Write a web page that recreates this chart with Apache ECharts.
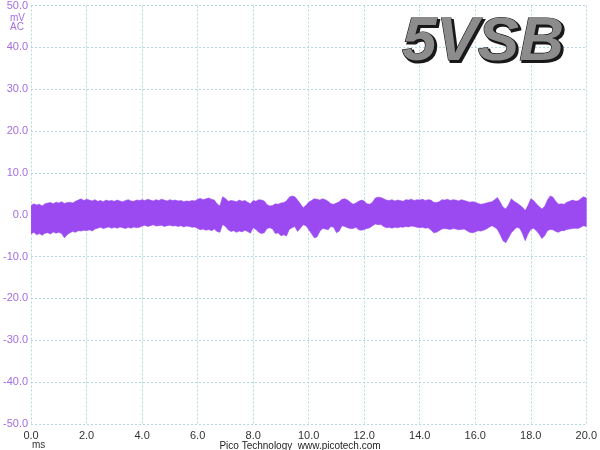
<!DOCTYPE html>
<html><head><meta charset="utf-8">
<script src="https://cdn.jsdelivr.net/npm/echarts@6/dist/echarts.min.js"></script>
<style>html,body{margin:0;padding:0;background:#fff}#c{width:600px;height:450px}</style>
</head><body><div id="c"></div>
<script>
// time axis in ms (step 0.1 ms), envelope of trace in mV
var timeStart = 0, timeStep = 0.1;
var upper = [
 2.2,2.6,2.3,2.5,2.1,2.6,2.8,2.9,2.6,3.0,
 2.8,3.1,2.7,2.9,3.0,2.8,3.2,3.5,3.8,3.4,
 3.7,3.5,3.3,3.6,3.2,3.4,3.1,3.5,3.3,3.4,
 3.2,3.5,3.3,3.1,3.4,3.6,3.3,3.2,3.5,3.4,
 3.6,3.4,3.7,3.5,3.3,3.6,3.4,3.7,3.5,3.3,
 3.6,3.4,3.5,3.3,3.4,3.1,3.3,3.2,3.4,3.3,
 3.7,3.9,3.6,3.8,4.0,3.7,3.5,2.6,2.1,4.3,
 3.9,3.2,3.4,3.3,3.1,3.5,3.2,3.4,3.0,2.6,
 3.4,3.2,3.6,3.5,3.3,2.4,2.1,2.2,2.6,2.5,
 2.8,2.9,3.3,4.2,4.5,4.3,3.5,2.6,1.7,2.2,
 3.0,3.4,3.8,3.7,3.5,3.8,3.6,3.2,2.6,2.5,
 2.8,3.1,3.7,3.8,3.5,3.0,2.5,2.8,3.2,3.5,
 3.3,2.6,2.5,3.0,4.0,4.2,4.1,3.8,3.5,3.4,
 3.6,3.3,3.5,3.4,3.2,3.6,3.5,3.7,3.4,3.6,
 3.5,3.7,3.4,3.6,3.5,3.0,2.9,3.1,3.6,3.5,
 3.7,3.4,3.6,3.5,3.3,3.6,3.4,3.2,3.0,3.1,
 3.0,2.7,2.5,2.6,2.8,3.0,3.1,3.6,4.1,3.0,
 1.8,1.4,2.4,3.8,3.2,2.8,2.3,1.8,1.0,2.2,
 3.8,3.4,2.6,2.0,1.4,2.0,3.5,4.5,4.2,3.2,
 2.5,2.6,2.5,3.0,3.2,3.5,3.3,3.3,3.8,4.3,
 4.0
];
var lower = [
 -4.6,-4.2,-4.8,-4.5,-4.9,-4.4,-4.3,-4.6,-4.1,-4.4,
 -4.2,-4.5,-5.5,-4.8,-4.3,-4.0,-4.2,-3.8,-3.9,-3.7,
 -3.8,-3.6,-3.9,-3.4,-3.2,-3.0,-3.3,-3.1,-2.9,-3.2,
 -3.0,-3.2,-2.9,-3.1,-3.3,-3.0,-3.2,-2.9,-3.1,-3.0,
 -2.7,-2.5,-2.8,-2.6,-2.4,-2.7,-2.6,-2.5,-2.8,-2.6,
 -2.5,-2.7,-2.6,-2.8,-2.6,-2.9,-2.7,-2.8,-3.0,-2.9,
 -3.3,-3.6,-3.4,-3.7,-3.5,-3.8,-3.4,-4.0,-4.2,-2.3,
 -2.8,-3.6,-4.0,-3.8,-4.2,-3.9,-4.1,-3.7,-4.0,-4.4,
 -3.1,-3.5,-4.2,-4.5,-4.3,-3.3,-3.1,-3.4,-4.5,-4.3,
 -5.0,-4.8,-5.1,-3.5,-3.1,-2.8,-4.0,-3.2,-2.4,-2.6,
 -3.5,-4.5,-5.5,-5.3,-4.0,-3.3,-3.4,-3.6,-2.8,-3.0,
 -4.3,-3.9,-2.6,-2.8,-3.1,-3.3,-3.3,-3.0,-3.6,-3.7,
 -3.5,-3.3,-3.1,-2.6,-2.2,-2.4,-2.3,-2.8,-3.1,-3.0,
 -3.2,-3.0,-3.1,-2.9,-3.0,-2.8,-2.9,-2.7,-2.8,-3.0,
 -3.1,-3.0,-3.2,-3.1,-3.6,-4.3,-4.2,-3.8,-3.4,-3.3,
 -3.4,-3.5,-3.3,-3.4,-3.6,-3.5,-3.4,-3.8,-4.2,-4.3,
 -4.1,-3.8,-3.9,-3.7,-3.4,-3.0,-2.6,-3.0,-3.5,-4.8,
 -6.2,-6.7,-5.5,-4.3,-3.6,-3.0,-3.2,-4.5,-6.2,-4.6,
 -3.5,-3.2,-3.8,-4.6,-5.7,-5.0,-3.8,-3.5,-3.6,-4.0,
 -4.2,-3.8,-3.8,-3.5,-3.4,-3.3,-3.2,-3.3,-3.0,-2.6,
 -2.8
];
var yTicks = [-50, -40, -30, -20, -10, 0, 10, 20, 30, 40, 50];
var xTicks = [0, 2, 4, 6, 8, 10, 12, 14, 16, 18, 20];
var titleText = '5VSB';
var traceColor = '#9b4af1';

var data = upper.map(function (u, i) {
  return [+(timeStart + i * timeStep).toFixed(2), lower[i], u];
});

var chart = echarts.init(document.getElementById('c'));
var gridColor = '#b3d8df';
var titleStyle = function (fill, stroke, lw) {
  return { text: titleText, font: 'italic bold 62px "Liberation Sans"', fill: fill, stroke: stroke, lineWidth: lw };
};
chart.setOption({
  animation: false,
  grid: { left: 26, right: 12, top: 5, bottom: 26 },
  xAxis: {
    type: 'value', min: xTicks[0], max: xTicks[xTicks.length - 1], interval: 2,
    axisLine: { show: false }, axisTick: { show: false },
    axisLabel: { color: '#333', fontFamily: 'Liberation Sans', fontSize: 11, margin: 6,
      formatter: function (v) { return v.toFixed(1); } },
    splitLine: { show: true, lineStyle: { color: gridColor, type: [2, 2], width: 1 } }
  },
  yAxis: {
    type: 'value', min: yTicks[0], max: yTicks[yTicks.length - 1], interval: 10,
    axisLine: { show: false }, axisTick: { show: false },
    axisLabel: { color: '#a56ee2', fontFamily: 'Liberation Sans', fontSize: 11, margin: 3,
      formatter: function (v) { return v.toFixed(1); } },
    splitLine: { show: true, lineStyle: { color: gridColor, type: [2, 2], width: 1 } }
  },
  series: [{
    type: 'custom',
    data: data,
    encode: { x: 0, y: [1, 2] },
    clip: true,
    renderItem: function (params, api) {
      if (params.dataIndex !== 0) return null;
      var pts = [];
      var i;
      for (i = 0; i < data.length; i++) pts.push(api.coord([data[i][0], data[i][2]]));
      for (i = data.length - 1; i >= 0; i--) pts.push(api.coord([data[i][0], data[i][1]]));
      return {
        type: 'polygon',
        shape: { points: pts },
        style: { fill: traceColor, stroke: traceColor, lineWidth: 0.6 }
      };
    }
  }],
  graphic: [
    { type: 'text', left: 10, top: 13, style: { text: 'mV', fill: '#a56ee2', font: '10px "Liberation Sans"' } },
    { type: 'text', left: 10, top: 22, style: { text: 'AC', fill: '#a56ee2', font: '10px "Liberation Sans"' } },
    { type: 'text', left: 32, top: 440, style: { text: 'ms', fill: '#333', font: '10px "Liberation Sans"' } },
    { type: 'text', x: 300, y: 441, style: { text: 'Pico Technology  www.picotech.com', fill: '#222', font: '10px "Liberation Sans"', align: 'center' } },
    { type: 'text', x: 404, y: 14, z: 9, style: titleStyle('#1a1a1a', '#1a1a1a', 2) },
    { type: 'text', x: 402, y: 12, z: 10, style: titleStyle('#8c8c8c', '#111', 1.2) }
  ]
});
</script></body></html>
